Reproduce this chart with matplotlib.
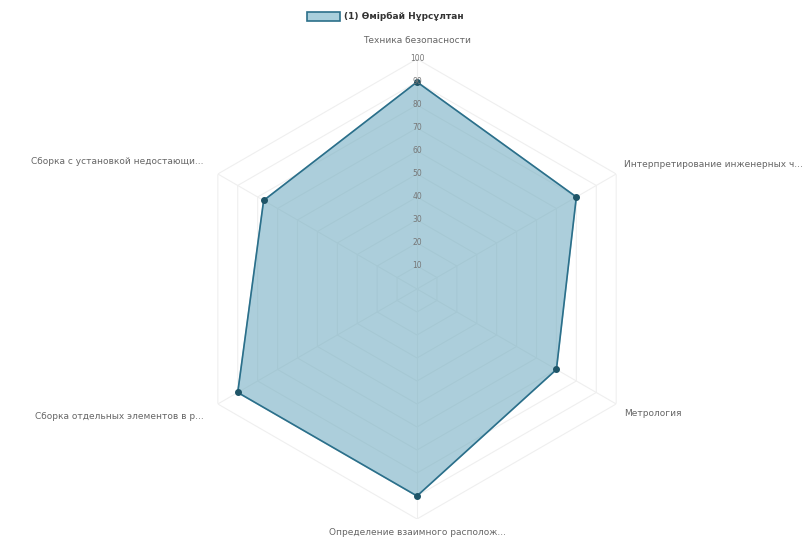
import numpy as np
import matplotlib
matplotlib.use("Agg")
import matplotlib.pyplot as plt
from matplotlib.patches import Patch

# Данные
categories = [
    "Техника безопасности",
    "Интерпретирование инженерных ч...",
    "Метрология",
    "Определение взаимного располож...",
    "Сборка отдельных элементов в р...",
    "Сборка с установкой недостающи...",
]
values = [90, 80, 70, 90, 90, 77]
ticks = [10, 20, 30, 40, 50, 60, 70, 80, 90, 100]
series_name = "(1) Өмірбай Нұрсұлтан"

n = len(categories)
angles = np.linspace(0, 2 * np.pi, n, endpoint=False)
closed_angles = np.append(angles, angles[0])
closed_values = values + values[:1]

fig = plt.figure(figsize=(8.12, 5.40), dpi=100)
ax = fig.add_axes([0.2303, 0.0389, 0.5665, 0.8519], projection="polar")
ax.set_theta_offset(np.pi / 2)
ax.set_theta_direction(-1)
ax.set_ylim(0, 100)
ax.grid(False)
ax.spines["polar"].set_visible(False)
ax.set_xticks([])
ax.set_yticks([])
ax.patch.set_alpha(0)

# Сетка (шестиугольники) и лучи
grid_color = "#efefef"
for t in ticks:
    ax.plot(closed_angles, [t] * (n + 1), color=grid_color, lw=0.8, zorder=1)
for a in angles:
    ax.plot([a, a], [0, 100], color=grid_color, lw=0.8, zorder=1)

# Данные
ax.fill(closed_angles, closed_values, color="#71acc1", alpha=0.58, zorder=2)
ax.plot(closed_angles, closed_values, color="#2b6f8a", lw=1.2, zorder=3)
ax.plot(angles, values, "o", color="#1f5568", ms=4, zorder=4)

# Подписи делений
for t in ticks:
    ax.text(0, t, str(t), ha="center", va="center", fontsize=5.5,
            color="#777777", zorder=5)

# Подписи осей
label_pos = [
    (106, "center", "bottom"),
    (104, "left", "bottom"),
    (104, "left", "top"),
    (104, "center", "top"),
    (107, "right", "top"),
    (107, "right", "bottom"),
]
for a, lab, (r, ha, va) in zip(angles, categories, label_pos):
    ax.text(a, r, lab, ha=ha, va=va, fontsize=6.5, color="#666666",
            clip_on=False)

handle = Patch(facecolor="#a9cfdc", edgecolor="#2b6f8a", linewidth=1.2)
fig.legend(handles=[handle], labels=[series_name], loc="upper center",
           bbox_to_anchor=(0.475, 0.993), frameon=False, handlelength=3.6,
           handleheight=1.1, handletextpad=0.5,
           prop={"size": 6.5, "weight": "bold"}, labelcolor="#333333")

fig.savefig("out.png", dpi=100)
